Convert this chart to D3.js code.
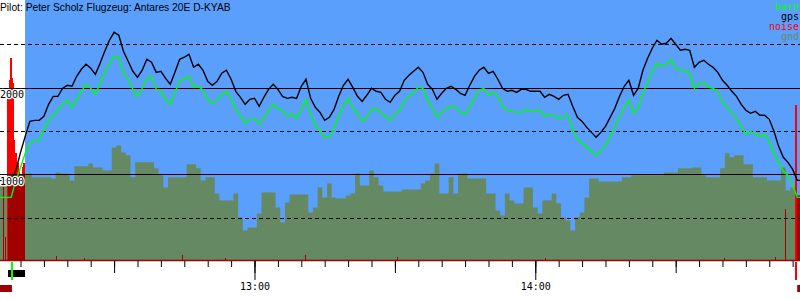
<!DOCTYPE html>
<html>
<head>
<meta charset="utf-8">
<script src="https://cdn.jsdelivr.net/npm/d3@7"></script>
<style>
  body { margin: 0; background: #fff; }
  svg { display: block; }
</style>
</head>
<body>
<div id="chart"></div>
<script>
// flight log: one sample a minute from firstMinute
const title = "Pilot: Peter Scholz Flugzeug: Antares 20E D-KYAB";
const firstMinute = "12:05";
const timeRange = ["12:05:37", "14:56:34"];

const gps = [
  930, 930, 930, 930, 1045, 1253, 1438, 1611, 1623, 1623,
  1669, 1808, 1900, 1900, 1993, 2027, 2016, 2131, 2212, 2270,
  2224, 2154, 2281, 2420, 2547, 2639, 2605, 2420, 2304, 2189,
  2120, 2201, 2328, 2293, 2177, 2189, 2108, 2039, 2177, 2328,
  2351, 2385, 2235, 2270, 2201, 2073, 2027, 2073, 2166, 2201,
  2097, 1958, 1889, 1808, 1866, 1877, 1785, 1889, 1981, 2039,
  1981, 1900, 1877, 1889, 1877, 2016, 2097, 1877, 1773, 1715,
  1623, 1658, 1750, 1900, 2027, 2097, 2004, 1900, 1842, 1912,
  1993, 1958, 1946, 1866, 1831, 1912, 1958, 2085, 2143, 2189,
  2235, 2177, 2039, 1981, 1866, 1935, 1993, 2016, 1981, 1935,
  1912, 2027, 2131, 2201, 2235, 2166, 2189, 2097, 1993, 1958,
  1970, 1946, 1981, 1981, 1958, 1958, 1958, 1889, 1923, 1900,
  1866, 1912, 1923, 1785, 1658, 1611, 1542, 1484, 1427, 1484,
  1554, 1658, 1762, 1900, 2016, 2085, 1912, 1993, 2201, 2339,
  2455, 2547, 2501, 2512, 2570, 2501, 2432, 2443, 2432, 2235,
  2293, 2316, 2270, 2235, 2177, 2085, 2027, 1958, 1900, 1808,
  1739, 1704, 1727, 1681, 1681, 1635, 1496, 1323, 1196, 1138,
  1057, 930, 930
];

const baro = [
  734, 734, 734, 734, 930, 1080, 1242, 1357, 1392, 1392,
  1519, 1623, 1681, 1739, 1808, 1854, 1773, 1866, 1958, 2039,
  1993, 1923, 2050, 2177, 2281, 2362, 2351, 2166, 2097, 1981,
  1900, 1993, 2108, 2131, 1981, 1958, 1866, 1808, 1946, 2073,
  2108, 2131, 2004, 2016, 1970, 1866, 1819, 1854, 1923, 1958,
  1877, 1750, 1681, 1588, 1646, 1646, 1577, 1658, 1739, 1808,
  1762, 1739, 1669, 1704, 1646, 1750, 1866, 1681, 1565, 1508,
  1427, 1427, 1542, 1669, 1785, 1877, 1762, 1704, 1611, 1658,
  1750, 1762, 1704, 1669, 1623, 1692, 1739, 1842, 1900, 1946,
  2004, 1993, 1854, 1762, 1658, 1715, 1762, 1785, 1773, 1715,
  1692, 1785, 1877, 1970, 1993, 1912, 1946, 1900, 1785, 1739,
  1727, 1715, 1715, 1750, 1727, 1739, 1739, 1669, 1692, 1681,
  1646, 1669, 1681, 1519, 1404, 1357, 1311, 1265, 1219, 1265,
  1334, 1438, 1554, 1658, 1773, 1854, 1704, 1773, 1935, 2062,
  2189, 2281, 2247, 2270, 2328, 2224, 2201, 2201, 2177, 1993,
  2050, 2062, 2004, 1993, 1946, 1842, 1773, 1715, 1646, 1554,
  1461, 1496, 1461, 1438, 1461, 1380, 1242, 1138, 1034, 988,
  872, 734, 734
];

const gnd = [
  872, 872, 872, 988, 988, 988, 1011, 1011, 965, 965,
  965, 965, 953, 1022, 1011, 1011, 930, 1092, 1092, 1092,
  1126, 1080, 1080, 1045, 1045, 1311, 1334, 1253, 1219, 965,
  1138, 1138, 1138, 1138, 1069, 988, 849, 965, 965, 965,
  965, 1115, 1115, 1069, 930, 965, 965, 780, 699, 699,
  699, 780, 503, 352, 387, 387, 549, 791, 791, 791,
  618, 445, 676, 768, 768, 768, 768, 560, 618, 849,
  734, 895, 734, 722, 722, 757, 780, 1011, 872, 872,
  1045, 965, 872, 803, 803, 803, 803, 826, 826, 826,
  826, 895, 930, 1011, 1126, 780, 780, 965, 780, 1011,
  1011, 953, 953, 953, 953, 780, 780, 583, 526, 780,
  699, 664, 664, 849, 849, 618, 549, 699, 699, 780,
  664, 503, 468, 352, 503, 560, 734, 953, 953, 918,
  918, 918, 918, 918, 965, 965, 988, 988, 988, 988,
  988, 988, 988, 1022, 1022, 1022, 1069, 1069, 1069, 1080,
  1080, 988, 965, 965, 965, 1069, 1242, 1196, 1219, 1219,
  1115, 1115, 965, 965, 965, 930, 930, 930, 1080, 814,
  849, 757, 757
];

// engine noise level (0..1000)
const noiseTimes = [
  "12:06:29", "12:06:50", "12:07:20", "12:07:39", "12:07:52", "12:08:05",
  "12:08:18", "12:08:37", "12:09:03", "12:09:22", "12:09:41", "12:10:07",
  "12:10:26", "12:10:45", "12:17:48", "12:23:51", "12:44:43", "12:53:55",
  "13:11:00", "13:30:40", "14:02:17", "14:40:32", "14:51:26", "14:53:34",
  "14:55:45"
];
const noiseValues = [
  281, 88, 642, 692, 777, 700,
  681, 462, 412, 373, 346, 319,
  358, 373, 15, 8, 19, 8,
  19, 12, 8, 8, 10, 196,
  596
];
const noiseLimit = 300;

const engineRuns = [["12:07:20", "12:10:58"], ["14:55:52", "14:56:34"]];
const launchRun = [["12:07:20", "12:10:58"]];
const onGround = [["12:05:37", "12:08:10"], ["14:55:58", "14:56:34"]];
const takeoff = "12:08:07";
const landing = "14:55:45";

const altGrid = [500, 1000, 1500, 2000, 2500];
const altLabels = [1000, 2000];
const legendNames = ["baro", "gps", "noise", "gnd"];

const SKY = "#5a9ffc", GND = "#658a63", BARO = "#00ff00", GPS = "#000000",
      NOISE = "#ff0000", DARK = "#a00000";
const MONO = "'DejaVu Sans Mono', monospace";

const W = 800, H = 300;
const parse = d3.timeParse("%H:%M:%S");
const t0 = d3.timeParse("%H:%M")(firstMinute);
const times = gps.map((_, i) => d3.timeMinute.offset(t0, i));

const x = d3.scaleTime().domain(timeRange.map(parse)).range([0, W]);
const y = d3.scaleLinear().domain([0, 3000]).range([261, 1]);
const yNoise = d3.scaleLinear().domain([0, 1000]).range([260, 0]);

const svg = d3.select("#chart").append("svg")
  .attr("width", W)
  .attr("height", H);

// sky for the gliding part
svg.append("rect")
  .attr("x", x(parse(engineRuns[0][1])))
  .attr("y", 0)
  .attr("width", W - x(parse(engineRuns[0][1])))
  .attr("height", y(0))
  .attr("fill", SKY);

// ground
const gndArea = d3.area()
  .x((d, i) => x(times[i]))
  .y0(y(0))
  .y1(d => y(d))
  .curve(d3.curveStep);

svg.append("path")
  .datum(gnd)
  .attr("d", gndArea)
  .attr("fill", GND);

// noise bars
svg.selectAll(".noise")
  .data(noiseValues)
  .join("rect")
  .attr("class", "noise")
  .attr("x", (d, i) => Math.round(x(parse(noiseTimes[i]))) - 1)
  .attr("width", d => d >= noiseLimit ? 2 : 1)
  .attr("y", d => yNoise(d))
  .attr("height", d => yNoise(0) - yNoise(d))
  .attr("fill", d => d >= noiseLimit ? NOISE : DARK)
  .attr("shape-rendering", "crispEdges");

// ground under running engine
engineRuns.forEach((r, k) => {
  const id = "eng" + k;
  svg.append("clipPath").attr("id", id)
    .append("rect")
    .attr("x", x(parse(r[0])))
    .attr("y", 0)
    .attr("width", x(parse(r[1])) - x(parse(r[0])))
    .attr("height", H);
  svg.append("path")
    .datum(gnd)
    .attr("d", gndArea)
    .attr("fill", DARK)
    .attr("clip-path", `url(#${id})`);
});

// altitude grid
svg.selectAll(".grid")
  .data(altGrid)
  .join("line")
  .attr("class", "grid")
  .attr("x1", 0)
  .attr("x2", W)
  .attr("y1", d => Math.round(y(d)) + 0.5)
  .attr("y2", d => Math.round(y(d)) + 0.5)
  .attr("stroke", "#000")
  .attr("stroke-width", 1)
  .attr("stroke-dasharray", d => d % 1000 ? "4,3" : null);

// baseline
svg.append("line")
  .attr("x1", 0).attr("x2", W)
  .attr("y1", 260.5).attr("y2", 260.5)
  .attr("stroke", DARK)
  .attr("stroke-width", 1.3);

// altitude curves
const line = d3.line()
  .x((d, i) => x(times[i]))
  .y(d => y(d));

svg.append("path")
  .datum(baro)
  .attr("d", line)
  .attr("fill", "none")
  .attr("stroke", BARO)
  .attr("stroke-width", 1.4);

svg.append("path")
  .datum(gps)
  .attr("d", line)
  .attr("fill", "none")
  .attr("stroke", GPS)
  .attr("stroke-width", 1.4);

// altitude labels
svg.selectAll(".alt")
  .data(altLabels)
  .join("text")
  .attr("class", "alt")
  .attr("x", 0)
  .attr("y", d => y(d) + 10.5)
  .attr("font-family", MONO)
  .attr("font-size", 10)
  .attr("fill", "#000")
  .attr("stroke", "#fff")
  .attr("stroke-width", 2.5)
  .attr("paint-order", "stroke")
  .text(d => d);

// time axis
const gx = svg.append("g").attr("transform", `translate(0,${y(0)})`);
[[d3.timeMinute.every(5), 6, ""],
 [d3.timeMinute.every(30), 12, ""],
 [d3.timeHour.every(1), 19, d3.timeFormat("%H:%M")]].forEach(([every, size, fmt]) => {
  gx.append("g")
    .call(d3.axisBottom(x).ticks(every).tickSize(size).tickSizeOuter(0).tickFormat(fmt))
    .call(g => g.select(".domain").remove())
    .attr("font-family", MONO)
    .attr("font-size", 10);
});

// launch / ground rows and events
svg.selectAll(".launch")
  .data(launchRun)
  .join("rect")
  .attr("x", d => x(parse(d[0])))
  .attr("width", d => x(parse(d[1])) - x(parse(d[0])))
  .attr("y", 270)
  .attr("height", 7)
  .attr("fill", "#000");

svg.selectAll(".onground")
  .data(onGround)
  .join("rect")
  .attr("x", d => x(parse(d[0])))
  .attr("width", d => x(parse(d[1])) - x(parse(d[0])))
  .attr("y", 285)
  .attr("height", 7)
  .attr("fill", DARK);

[[takeoff, BARO], [landing, NOISE]].forEach(([t, c]) => {
  svg.append("rect")
    .attr("x", Math.round(x(parse(t))) - 1)
    .attr("width", 2)
    .attr("y", 262)
    .attr("height", 18)
    .attr("fill", c);
});

// legend
const legendColors = [BARO, GPS, NOISE, GND];
svg.selectAll(".legend")
  .data(legendNames)
  .join("text")
  .attr("class", "legend")
  .attr("x", 799)
  .attr("y", (d, i) => 10 + i * 10)
  .attr("text-anchor", "end")
  .attr("font-family", MONO)
  .attr("font-size", 10)
  .attr("fill", (d, i) => legendColors[i])
  .text(d => d);

// title
svg.append("text")
  .attr("x", 0)
  .attr("y", 11)
  .attr("font-family", "'Liberation Sans', Arial, sans-serif")
  .attr("font-size", 10.25)
  .attr("fill", "#000")
  .text(title);
</script>
</body>
</html>
